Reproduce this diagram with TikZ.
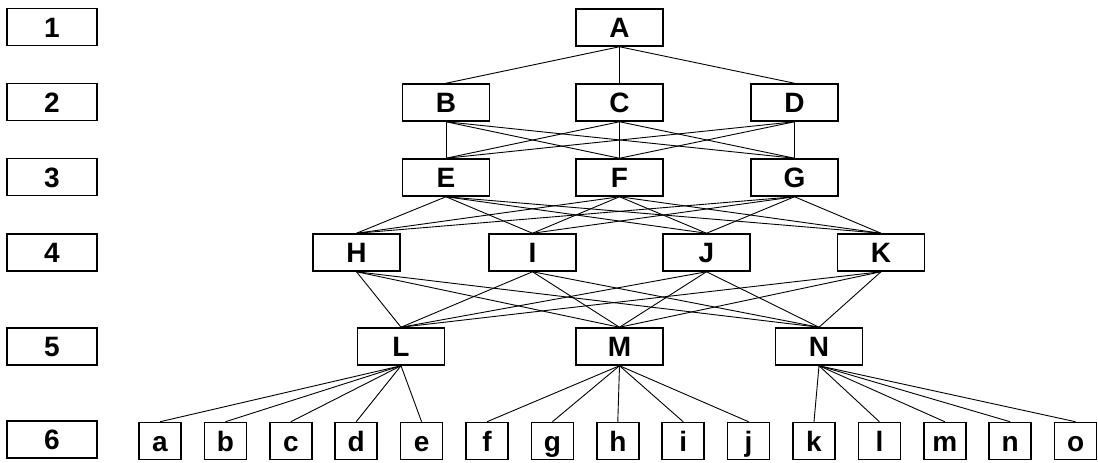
\documentclass[tikz,border=0pt]{standalone}
\usepackage{fontspec}
\setmainfont{Liberation Sans}
\begin{document}
\begin{tikzpicture}[x=1pt,y=-1pt,
  box/.style={draw, line width=1.5pt, inner sep=0pt, text height=20pt, text depth=0pt,
              font=\fontsize{28}{28}\selectfont\bfseries},
  level/.style={box, minimum width=90pt, minimum height=37pt},
  item/.style={box, minimum width=87pt, minimum height=37pt},
  leaf/.style={box, minimum width=42pt, minimum height=37pt},
  link/.style={line width=0.9pt}]
\useasboundingbox (0,0) rectangle (1098,463);

% level labels
\foreach \n/\y in {1/27, 2/102, 3/177, 4/252.5, 5/346.5, 6/439.5}
  \node[level] (lv\n) at (52,\y) {\n};

% hierarchy nodes
\node[item] (A) at (619.5,27.5) {A};
\node[item] (B) at (446,102.5) {B};
\node[item] (C) at (619.5,102.5) {C};
\node[item] (D) at (794.5,102.5) {D};
\node[item] (E) at (446,177.5) {E};
\node[item] (F) at (619.5,177.5) {F};
\node[item] (G) at (794.5,177.5) {G};
\node[item] (H) at (356.5,252.5) {H};
\node[item] (I) at (532.5,252.5) {I};
\node[item] (J) at (706.5,252.5) {J};
\node[item] (K) at (881,252.5) {K};
\node[item] (L) at (401,346.5) {L};
\node[item] (M) at (619.5,346.5) {M};
\node[item] (N) at (819,346.5) {N};

% leaves
\foreach \t [count=\i from 0] in {a,b,c,d,e,f,g,h,i,j,k,l,m,n,o}
  \node[leaf] (leaf\t) at ({160+65.4*\i},441) {\t};

% connectors
\foreach \c in {B,C,D} \draw[link] (A.south) -- (\c.north);
\foreach \p in {B,C,D} \foreach \c in {E,F,G} \draw[link] (\p.south) -- (\c.north);
\foreach \p in {E,F,G} \foreach \c in {H,I,J,K} \draw[link] (\p.south) -- (\c.north);
\foreach \p in {H,I,J,K} \foreach \c in {L,M,N} \draw[link] (\p.south) -- (\c.north);
\foreach \c in {a,b,c,d,e} \draw[link] (L.south) -- (leaf\c.north);
\foreach \c in {f,g,h,i,j} \draw[link] (M.south) -- (leaf\c.north);
\foreach \c in {k,l,m,n,o} \draw[link] (N.south) -- (leaf\c.north);
\end{tikzpicture}
\end{document}
